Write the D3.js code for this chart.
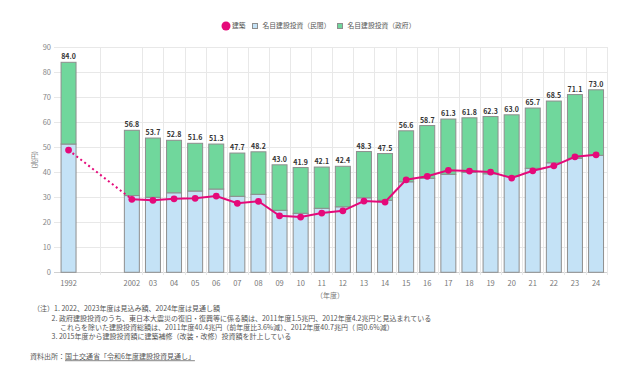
<!DOCTYPE html>
<meta charset="utf-8">
<style>
	body { margin: 0; background: #fff; }
	svg { font-family: "Noto Sans CJK JP", "Noto Sans", sans-serif; }
	.grid line { stroke: #e8e8e8; shape-rendering: crispEdges; }
	.note { font-size: 7px; fill: #555; }
</style>

<div class="chart"></div>

<script src="https://d3js.org/d3.v7.min.js"></script>

<script>
	// categories (two empty slots between 1992 and 2002)
	var years = ["1992", "gap1", "gap2", "2002", "2003", "2004", "2005", "2006", "2007", "2008", "2009", "2010",
		"2011", "2012", "2013", "2014", "2015", "2016", "2017", "2018", "2019", "2020", "2021", "2022", "2023", "2024"];
	var tickLabels = ["1992", "", "", "2002", "03", "04", "05", "06", "07", "08", "09", "10",
		"11", "12", "13", "14", "15", "16", "17", "18", "19", "20", "21", "22", "23", "24"];

	var dataYears = ["1992", "2002", "2003", "2004", "2005", "2006", "2007", "2008", "2009", "2010",
		"2011", "2012", "2013", "2014", "2015", "2016", "2017", "2018", "2019", "2020", "2021", "2022", "2023", "2024"];
	// 名目建設投資 total (label on top of the bar)
	var totalValues = [84.0, 56.8, 53.7, 52.8, 51.6, 51.3, 47.7, 48.2, 43.0, 41.9,
		42.1, 42.4, 48.3, 47.5, 56.6, 58.7, 61.3, 61.8, 62.3, 63.0, 65.7, 68.5, 71.1, 73.0];
	// 名目建設投資（民間）
	var privateValues = [51.3, 30.7, 30.0, 31.8, 32.5, 33.3, 30.4, 31.2, 24.8, 23.6,
		25.6, 26.2, 29.8, 28.8, 36.2, 37.6, 39.2, 40.0, 39.4, 38.4, 41.6, 43.8, 45.6, 46.8];
	// 建築
	var buildingValues = [48.9, 29.2, 28.8, 29.4, 29.6, 30.5, 27.6, 28.4, 22.6, 22.1,
		23.7, 24.6, 28.5, 28.1, 37.0, 38.4, 40.8, 40.5, 40.1, 37.7, 40.6, 42.6, 46.2, 47.0];

	var yTicks = [0, 10, 20, 30, 40, 50, 60, 70, 80, 90];

	var legendItems = [
		{ key: "line", label: "建築" },
		{ key: "private", label: "名目建設投資（民間）" },
		{ key: "gov", label: "名目建設投資（政府）" }
	];

	var notes = [
		"（注）1. 2022、2023年度は見込み額、2024年度は見通し額",
		"2. 政府建設投資のうち、東日本大震災の復旧・復興等に係る額は、2011年度1.5兆円、2012年度4.2兆円と見込まれている",
		"これらを除いた建設投資総額は、2011年度40.4兆円（前年度比3.6%減）、2012年度40.7兆円（ 同0.6%減）",
		"3. 2015年度から建設投資額に建築補修（改装・改修）投資額を計上している"
	];

	var colors = { private: "#c4e2f6", gov: "#70d79c", line: "#e5097a", edge: "#8e8e8e" };

	var width = 640, height = 392;
	var plot = { x0: 58, x1: 606.6, y0: 47.3, y1: 272.3 };

	var data = dataYears.map(function (yr, i) {
		return { year: yr, total: totalValues[i], priv: privateValues[i], gov: totalValues[i] - privateValues[i], building: buildingValues[i] };
	});

	var svg = d3.select(".chart").append("svg")
		.attr("width", width)
		.attr("height", height);

	var x = d3.scaleBand()
		.domain(years)
		.range([plot.x0, plot.x1])
		.paddingInner(0.29)
		.paddingOuter(0.145);

	var y = d3.scaleLinear()
		.domain([0, 90])
		.range([plot.y1, plot.y0]);

	var step = x.step();
	var half = x.paddingInner() * step / 2;

	// horizontal grid
	var grid = svg.append("g").attr("class", "grid");
	grid.selectAll(".h").data(yTicks).enter().append("line")
		.attr("x1", plot.x0 - 4).attr("x2", plot.x1)
		.attr("y1", function (d) { return Math.round(y(d)) + 0.5; })
		.attr("y2", function (d) { return Math.round(y(d)) + 0.5; })
		.style("stroke", function (d) { return d === 0 ? "#d0d0d0" : "#e8e8e8"; });

	// vertical grid at category boundaries
	var vLines = years.filter(function (d) { return d !== "1992" && d !== "gap1" && d !== "2002"; })
		.map(function (d) { return x(d) - half; });
	vLines.push(plot.x1);
	grid.selectAll(".v").data(vLines).enter().append("line")
		.attr("x1", function (d) { return Math.round(d) + 0.5; })
		.attr("x2", function (d) { return Math.round(d) + 0.5; })
		.attr("y1", plot.y0).attr("y2", plot.y1 + 3);

	// y tick labels
	svg.append("g").selectAll("text").data(yTicks).enter().append("text")
		.attr("x", 51).attr("y", function (d) { return y(d); })
		.attr("dy", "0.35em")
		.attr("text-anchor", "end")
		.style("font-size", "7.5px").style("fill", "#888")
		.text(function (d) { return d; });

	svg.append("text")
		.attr("transform", "translate(35," + y(45) + ") rotate(-90)")
		.attr("text-anchor", "middle")
		.attr("dy", "0.35em")
		.style("font-size", "6.5px").style("fill", "#777")
		.text("(兆円)");

	// x tick labels
	svg.append("g").selectAll("text").data(years).enter().append("text")
		.attr("x", function (d) { return x(d) + x.bandwidth() / 2; })
		.attr("y", 283.5)
		.attr("dy", "0.35em")
		.attr("text-anchor", "middle")
		.style("font-size", "7.5px").style("fill", "#777")
		.text(function (d, i) { return tickLabels[i]; });

	svg.append("text")
		.attr("x", 330).attr("y", 296)
		.attr("dy", "0.35em")
		.attr("text-anchor", "middle")
		.style("font-size", "7px").style("fill", "#777")
		.text("（年度）");

	// stacked bars
	var bars = svg.append("g").selectAll("g").data(data).enter().append("g");
	bars.append("rect")
		.attr("x", function (d) { return x(d.year); })
		.attr("width", x.bandwidth())
		.attr("y", function (d) { return y(d.priv); })
		.attr("height", function (d) { return y(0) - y(d.priv); })
		.style("fill", colors.private)
		.style("stroke", colors.edge).style("stroke-width", 1);
	bars.append("rect")
		.attr("x", function (d) { return x(d.year); })
		.attr("width", x.bandwidth())
		.attr("y", function (d) { return y(d.total); })
		.attr("height", function (d) { return y(d.priv) - y(d.total); })
		.style("fill", colors.gov)
		.style("stroke", colors.edge).style("stroke-width", 1);

	bars.append("text")
		.attr("x", function (d) { return x(d.year) + x.bandwidth() / 2; })
		.attr("y", function (d) { return y(d.total) - 3; })
		.attr("text-anchor", "middle")
		.style("font-size", "7px").style("font-weight", "bold").style("fill", "#333")
		.text(function (d) { return d.total.toFixed(1); });

	// 建築 line: dotted across the gap, solid afterwards
	var line = d3.line()
		.x(function (d) { return x(d.year) + x.bandwidth() / 2; })
		.y(function (d) { return y(d.building); });

	svg.append("path")
		.datum(data.slice(0, 2))
		.attr("d", line)
		.style("fill", "none").style("stroke", colors.line)
		.style("stroke-width", 2).style("stroke-dasharray", "2,3");

	svg.append("path")
		.datum(data.slice(1))
		.attr("d", line)
		.style("fill", "none").style("stroke", colors.line)
		.style("stroke-width", 2);

	svg.append("g").selectAll("circle").data(data).enter().append("circle")
		.attr("cx", function (d) { return x(d.year) + x.bandwidth() / 2; })
		.attr("cy", function (d) { return y(d.building); })
		.attr("r", 3.4)
		.style("fill", colors.line);

	// legend
	var legend = svg.append("g");
	var lx = [226, 255, 340];
	legendItems.forEach(function (item, i) {
		var g = legend.append("g").attr("transform", "translate(" + lx[i] + ",26)");
		if (item.key === "line") {
			g.append("circle").attr("r", 4.5).style("fill", colors.line);
			g.append("text").attr("x", 6).attr("dy", "0.35em")
				.style("font-size", "6.8px").style("fill", "#555").text(item.label);
		} else {
			g.append("rect").attr("x", -2.5).attr("y", -2.5).attr("width", 5).attr("height", 5)
				.style("fill", colors[item.key]).style("stroke", colors.edge).style("stroke-width", 1);
			g.append("text").attr("x", 7.5).attr("dy", "0.35em")
				.style("font-size", "6.8px").style("fill", "#555").text(item.label);
		}
	});

	// notes
	var noteX = [33, 51.5, 60, 51.5];
	var noteY = [309, 318.5, 327.5, 337];
	svg.append("g").selectAll("text").data(notes).enter().append("text")
		.attr("class", "note")
		.attr("x", function (d, i) { return noteX[i]; })
		.attr("y", function (d, i) { return noteY[i]; })
		.attr("dy", "0.35em")
		.text(function (d) { return d; });

	var src = svg.append("text").attr("class", "note").attr("x", 30).attr("y", 357).attr("dy", "0.35em");
	src.append("tspan").text("資料出所：");
	src.append("tspan").style("text-decoration", "underline").text("国土交通省「令和6年度建設投資見通し」");
</script>
